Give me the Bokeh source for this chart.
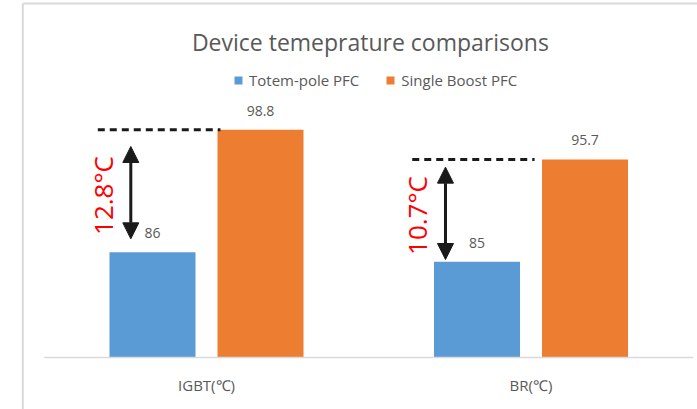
import math
from bokeh.plotting import figure
from bokeh.models import ColumnDataSource, Legend, LegendItem, Label, Arrow, NormalHead
from bokeh.core.properties import value
from bokeh.embed import file_html
from bokeh.resources import INLINE

# ---- data ----
categories = ["IGBT(℃)", "BR(℃)"]
series_names = ["Totem-pole PFC", "Single Boost PFC"]
totem_pole = [86, 85]
single_boost = [98.8, 95.7]
axis_min = 75
title_text = "Device temeprature comparisons"

# ---- layout constants (pixels) ----
W, H = 697, 409
PXX = 324.5          # px per category
C0 = 206             # px of first category centre
PXY = 9.57           # px per degree
BASE = 357           # px of value axis minimum (from top)

x_start = -C0 / PXX
x_end = (W - C0) / PXX
y_start = axis_min - (H - BASE) / PXY
y_end = axis_min + BASE / PXY

FONT = "Open Sans"
GREY = "#595959"
BLUE = "#5b9bd5"
ORANGE = "#ed7d31"
DARK = "#1a1a1a"

p = figure(width=W, height=H, x_range=(x_start, x_end), y_range=(y_start, y_end),
           output_backend="svg", toolbar_location=None,
           x_axis_location=None, y_axis_location=None,
           min_border=0, min_border_left=0, min_border_right=0,
           min_border_top=0, min_border_bottom=0)
p.grid.visible = False
p.outline_line_color = None
p.background_fill_color = "white"
p.border_fill_color = "white"

xs = list(range(len(categories)))
off = 54 / PXX
bw = 86 / PXX

src = ColumnDataSource(dict(
    x=xs,
    xb=[x - off for x in xs],
    xo=[x + off for x in xs],
    blue=totem_pole,
    orange=single_boost,
    bl=[str(v) for v in totem_pole],
    ol=[str(v) for v in single_boost],
    cat=categories,
    base=[axis_min] * len(xs),
))

rb = p.vbar(x="xb", top="blue", bottom=axis_min, width=bw, source=src,
            fill_color=BLUE, line_color=None)
ro = p.vbar(x="xo", top="orange", bottom=axis_min, width=bw, source=src,
            fill_color=ORANGE, line_color=None)

# baseline (category axis line)
p.segment(x0=[-0.5], y0=[axis_min], x1=[len(xs) - 0.5], y1=[axis_min],
          line_color="#d9d9d9", line_width=1.5)

# data labels
p.text(x="xb", y="blue", text="bl", source=src, y_offset=-19,
       text_align="center", text_baseline="middle", text_color=GREY,
       text_font=value(FONT), text_font_size="14px")
p.text(x="xo", y="orange", text="ol", source=src, y_offset=-19,
       text_align="center", text_baseline="middle", text_color=GREY,
       text_font=value(FONT), text_font_size="14px")

# category labels
p.text(x="x", y="base", text="cat", source=src, y_offset=27,
       text_align="center", text_baseline="middle", text_color=GREY,
       text_font=value(FONT), text_font_size="15px")

# annotation: dashed lines, arrows, difference labels
dash_x0 = [-0.335, 1 - 0.366]
dash_x1 = [0.043, 1 + 0.011]
p.segment(x0=dash_x0, y0=single_boost, x1=dash_x1, y1=single_boost,
          line_color=DARK, line_width=3, line_dash="7 5")

arrow_x = [-0.2333, 1 - 0.2635]
arrow_top = [97.05, 94.89]
arrow_bot = [87.40, 85.24]
asrc = ColumnDataSource(dict(x=arrow_x, y0=arrow_bot, y1=arrow_top))
p.add_layout(Arrow(start=NormalHead(size=16, fill_color=DARK, line_color=DARK),
                   end=NormalHead(size=16, fill_color=DARK, line_color=DARK),
                   x_start="x", y_start="y0", x_end="x", y_end="y1", source=asrc,
                   line_color=DARK, line_width=3))

diff_x = [-0.319, 1 - 0.352]
diff_y = [91.93, 89.84]
diff_txt = [f"{o - b:.1f}°C" for o, b in zip(single_boost, totem_pole)]
p.text(x=diff_x, y=diff_y, text=diff_txt, angle=math.pi / 2,
       text_align="center", text_baseline="middle", text_color="#ff0000",
       text_font=value(FONT), text_font_size="26px")

# chart-area border (left, top)
xl = x_start + 22.3 / PXX
yt = y_end - 3.0 / PXY
p.segment(x0=[xl, xl], y0=[y_start, yt], x1=[xl, x_end], y1=[yt, yt],
          line_color="#d9d9d9", line_width=2)

# title
p.add_layout(Label(x=369.9, y=H - 41.7, x_units="screen", y_units="screen",
                   text=title_text, text_align="center", text_baseline="alphabetic",
                   text_font=FONT, text_font_size="23px", text_color=GREY))

# legend
legend = Legend(items=[LegendItem(label=series_names[0], renderers=[rb]),
                       LegendItem(label=series_names[1], renderers=[ro])],
                orientation="horizontal", location=(233, H - 90),
                padding=0, margin=0, spacing=26, label_standoff=6,
                glyph_width=10, glyph_height=10, label_height=10,
                border_line_color=None, background_fill_alpha=0,
                label_text_font=FONT, label_text_font_size="15px",
                label_text_color=GREY)
p.add_layout(legend)

open("out.html", "w").write(file_html(p, INLINE))
